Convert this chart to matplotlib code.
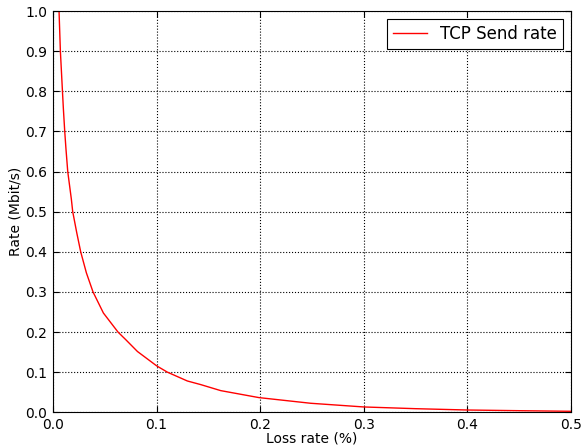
import matplotlib
matplotlib.use("Agg")
import matplotlib.pyplot as plt

# pontos (taxa de perda, taxa em Mbit/s)
perda = [0.0058, 0.0071, 0.0091, 0.0100, 0.0113, 0.0125, 0.0142, 0.0177,
         0.019, 0.0229, 0.0267, 0.0322, 0.0386, 0.0486, 0.0627, 0.0702,
         0.0815, 0.1, 0.1104, 0.1297, 0.1426, 0.1619, 0.1988, 0.2487,
         0.3, 0.35, 0.4, 0.45, 0.5]
taxa = [1.0, 0.9, 0.8, 0.756, 0.7, 0.656, 0.6, 0.531,
        0.5, 0.4475, 0.4, 0.3475, 0.3, 0.2475, 0.2, 0.181,
        0.1515, 0.1158, 0.1, 0.078, 0.069, 0.054, 0.0366, 0.0225,
        0.0133, 0.009, 0.0057, 0.004, 0.0025]

xticks = [0.0, 0.1, 0.2, 0.3, 0.4, 0.5]
yticks = [0.0, 0.1, 0.2, 0.3, 0.4, 0.5, 0.6, 0.7, 0.8, 0.9, 1.0]

plt.rcParams["font.family"] = "DejaVu Sans"

fig = plt.figure(figsize=(5.84, 4.48), dpi=100)
ax = fig.add_axes([0.0908, 0.0797, 0.8869, 0.8957])

ax.plot(perda, taxa, color="red", linewidth=1.0, label="TCP Send rate")

ax.set_xlim(0, 0.5)
ax.set_ylim(0, 1.0)
ax.set_xticks(xticks)
ax.set_yticks(yticks)
ax.set_xticklabels(["%.1f" % v for v in xticks], fontsize=10)
ax.set_yticklabels(["%.1f" % v for v in yticks], fontsize=10)
ax.tick_params(direction="in", top=True, right=True, length=4, pad=4)

ax.grid(True, color="black", linestyle=":", linewidth=0.8)
ax.set_xlabel("Loss rate (%)", fontsize=10, labelpad=0)
ax.set_ylabel("Rate (Mbit/s)", fontsize=10, labelpad=2)

leg = ax.legend(loc="upper right", fontsize=12, fancybox=False,
                framealpha=1, edgecolor="black", borderaxespad=0.5,
                borderpad=0.35)
leg.get_frame().set_linewidth(0.8)

fig.savefig("out.png", dpi=100)
